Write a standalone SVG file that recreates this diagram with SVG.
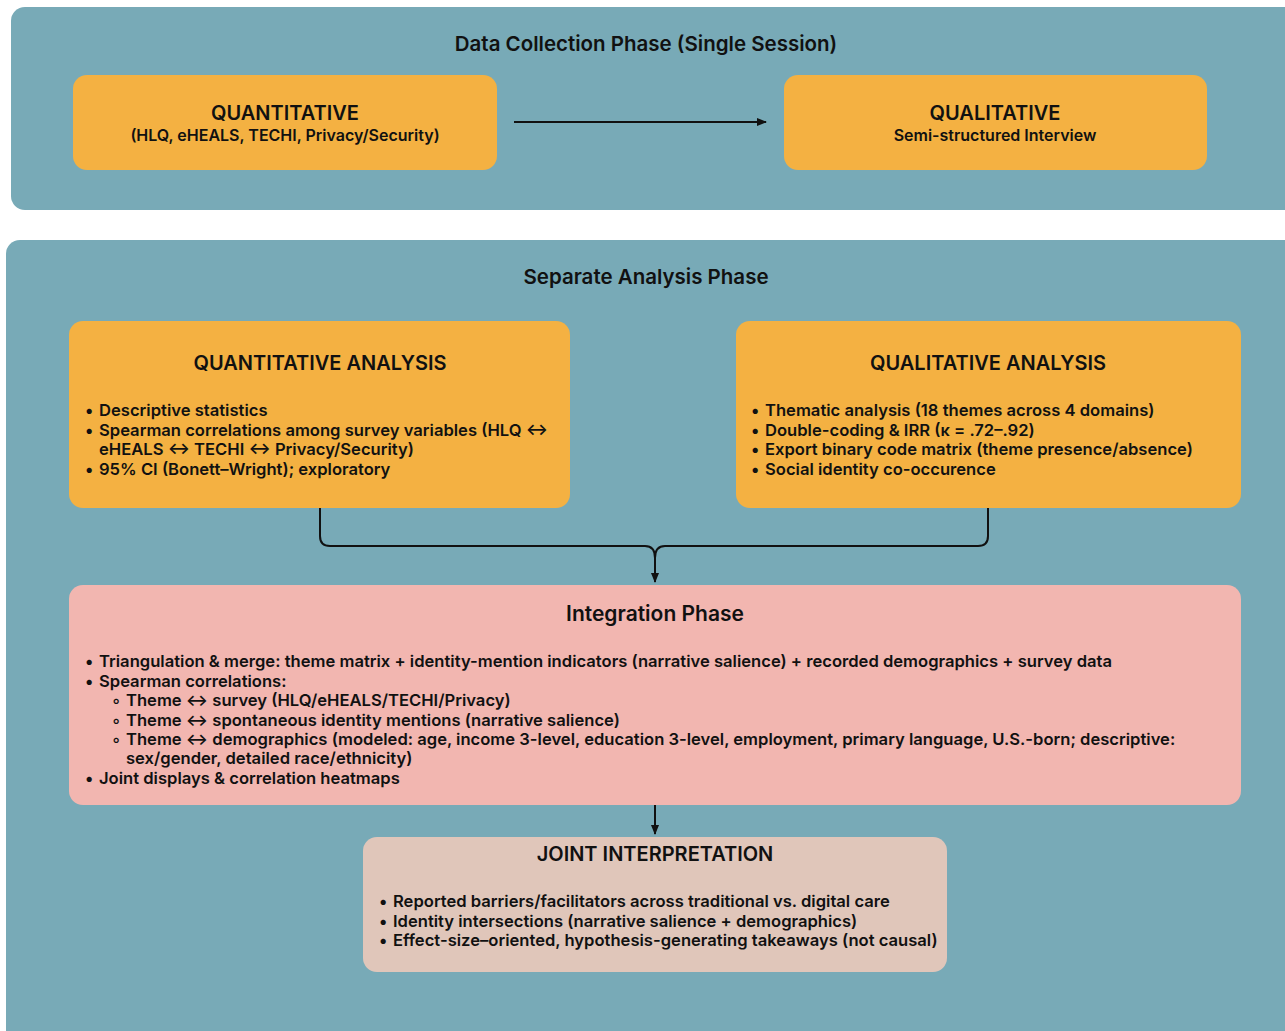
<svg xmlns="http://www.w3.org/2000/svg" width="1285" height="1031" viewBox="0 0 1285 1031">
<defs>
<style>
.panel{fill:#78aab7}
.orange{fill:#f4b142}
.pink{fill:#f2b6b0}
.beige{fill:#e0c6ba}
text{font-family:Inter,"Liberation Sans",sans-serif;fill:#111}
.ttl{font-size:20.5px;font-weight:600;text-anchor:middle}
.h{font-size:20px;font-weight:600;text-anchor:middle}
.h2{font-size:21px;font-weight:600;text-anchor:middle}
.sub{font-size:16px;font-weight:600;text-anchor:middle}
.b{font-size:16.6px;font-weight:600}
.line{fill:none;stroke:#111;stroke-width:2}
</style>
<marker id="ah" viewBox="0 0 10 10" refX="9" refY="5" markerWidth="5" markerHeight="5" orient="auto">
<path d="M0,1 L10,5 L0,9 z" fill="#111"/>
</marker>
</defs>
<rect width="1285" height="1031" fill="#ffffff"/>
<g id="panel-collection">
<rect class="panel" x="11" y="7" width="1290" height="203" rx="14"/>
<text class="ttl" x="646" y="51">Data Collection Phase (Single Session)</text>
</g>
<g id="panel-analysis">
<rect class="panel" x="6" y="240" width="1295" height="805" rx="14"/>
<text class="ttl" x="646" y="284">Separate Analysis Phase</text>
</g>
<g id="quantitative">
<rect class="orange" x="73" y="75" width="424" height="95" rx="14"/>
<text class="h" x="285" y="120">QUANTITATIVE</text>
<text class="sub" x="285" y="141">(HLQ, eHEALS, TECHI, Privacy/Security)</text>
</g>
<g id="qualitative">
<rect class="orange" x="784" y="75" width="423" height="95" rx="14"/>
<text class="h" x="995" y="120">QUALITATIVE</text>
<text class="sub" x="995" y="141">Semi-structured Interview</text>
</g>
<g id="quant-analysis">
<rect class="orange" x="69" y="321" width="501" height="187" rx="14"/>
<text class="h" x="320" y="370">QUANTITATIVE ANALYSIS</text>
<text class="b" x="85" y="416">•</text><text class="b" x="99" y="416">Descriptive statistics</text>
<text class="b" x="85" y="436">•</text><text class="b" x="99" y="436">Spearman correlations among survey variables (HLQ ↔</text>
<text class="b" x="99" y="455">eHEALS ↔ TECHI ↔ Privacy/Security)</text>
<text class="b" x="85" y="475">•</text><text class="b" x="99" y="475">95% CI (Bonett–Wright); exploratory</text>
</g>
<g id="qual-analysis">
<rect class="orange" x="736" y="321" width="505" height="187" rx="14"/>
<text class="h" x="988" y="370">QUALITATIVE ANALYSIS</text>
<text class="b" x="751" y="416">•</text><text class="b" x="765" y="416">Thematic analysis (18 themes across 4 domains)</text>
<text class="b" x="751" y="436">•</text><text class="b" x="765" y="436">Double-coding &amp; IRR (κ = .72–.92)</text>
<text class="b" x="751" y="455">•</text><text class="b" x="765" y="455">Export binary code matrix (theme presence/absence)</text>
<text class="b" x="751" y="475">•</text><text class="b" x="765" y="475">Social identity co-occurence</text>
</g>
<g id="integration">
<rect class="pink" x="69" y="585" width="1172" height="220" rx="14"/>
<text class="h2" x="655" y="621">Integration Phase</text>
<text class="b" x="85" y="667">•</text><text class="b" x="99" y="667">Triangulation &amp; merge: theme matrix + identity-mention indicators (narrative salience) + recorded demographics + survey data</text>
<text class="b" x="85" y="687">•</text><text class="b" x="99" y="687">Spearman correlations:</text>
<text class="b" x="112" y="706">◦</text><text class="b" x="126" y="706">Theme ↔ survey (HLQ/eHEALS/TECHI/Privacy)</text>
<text class="b" x="112" y="726">◦</text><text class="b" x="126" y="726">Theme ↔ spontaneous identity mentions (narrative salience)</text>
<text class="b" x="112" y="745">◦</text><text class="b" x="126" y="745">Theme ↔ demographics (modeled: age, income 3-level, education 3-level, employment, primary language, U.S.-born; descriptive:</text>
<text class="b" x="126" y="764">sex/gender, detailed race/ethnicity)</text>
<text class="b" x="85" y="784">•</text><text class="b" x="99" y="784">Joint displays &amp; correlation heatmaps</text>
</g>
<g id="joint-interpretation">
<rect class="beige" x="363" y="837" width="584" height="135" rx="14"/>
<text class="h" x="655" y="861">JOINT INTERPRETATION</text>
<text class="b" x="379" y="907">•</text><text class="b" x="393" y="907">Reported barriers/facilitators across traditional vs. digital care</text>
<text class="b" x="379" y="927">•</text><text class="b" x="393" y="927">Identity intersections (narrative salience + demographics)</text>
<text class="b" x="379" y="946">•</text><text class="b" x="393" y="946">Effect-size–oriented, hypothesis-generating takeaways (not causal)</text>
</g>
<g id="connectors">
<line class="line" x1="514" y1="122" x2="766" y2="122" marker-end="url(#ah)"/>
<path class="line" d="M320,508 V536 Q320,546 330,546 H645 Q655,546 655,558"/>
<path class="line" d="M988,508 V536 Q988,546 978,546 H665 Q655,546 655,558 V582" marker-end="url(#ah)"/>
<line class="line" x1="655" y1="805" x2="655" y2="834" marker-end="url(#ah)"/>
</g>
</svg>
